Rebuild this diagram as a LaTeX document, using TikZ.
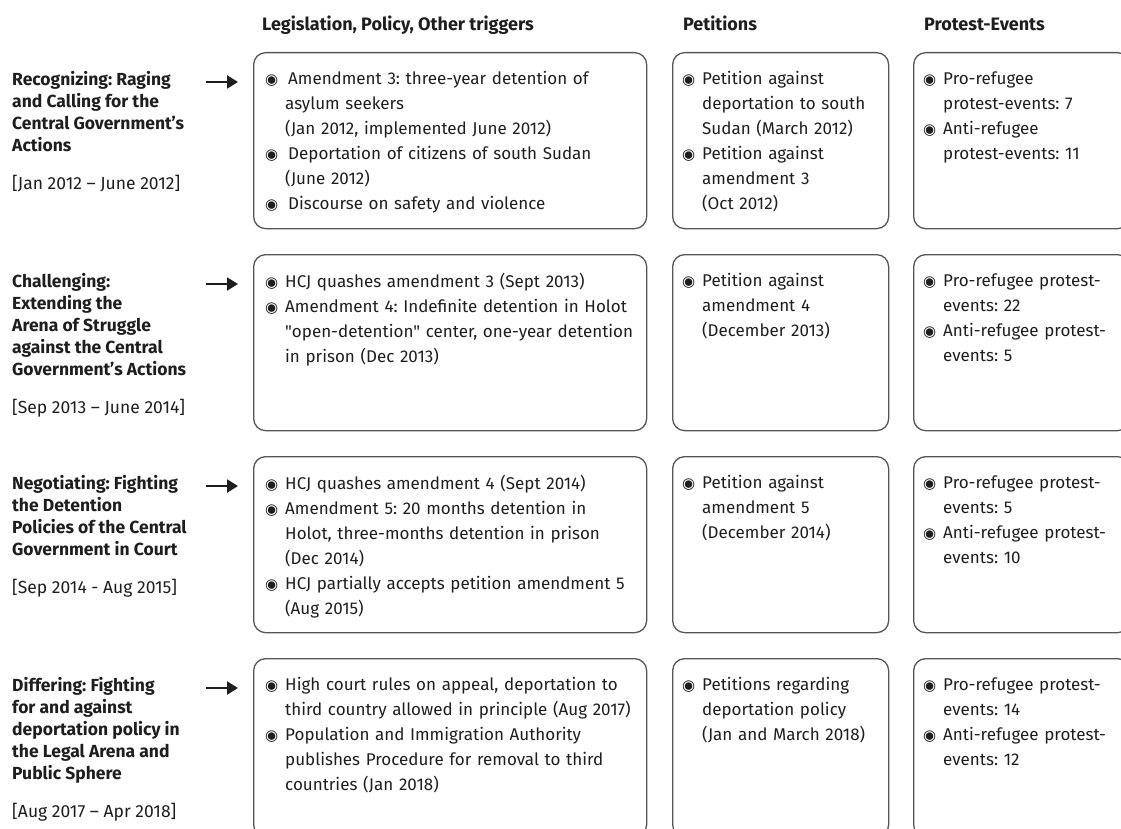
\documentclass[tikz,border=0pt]{standalone}
\usepackage{fontspec}
\setmainfont{Fira Sans}
\newfontfamily\bulfont{DejaVu Sans}
\newfontfamily\quotefont{Fira Sans}
\usetikzlibrary{arrows.meta}

\definecolor{boxgray}{HTML}{555555}
\definecolor{ink}{HTML}{1E1E1E}

\newlength{\bulw}
\setlength{\bulw}{20pt}
\newcommand{\bul}{{\bulfont\fontsize{15}{15}\selectfont ◉}}
\newcommand{\itm}[1]{\hangindent=\bulw\hangafter=1\noindent\rule{0pt}{13pt}\makebox[\bulw][l]{\bul}#1\par}
\newcommand{\dq}{{\quotefont"}}
\frenchspacing

\begin{document}
\begin{tikzpicture}[x=1pt,y=-1pt,
    stagebox/.style={draw=boxgray,line width=1.3pt,rounded corners=12pt,anchor=north west,minimum height=#1,inner sep=0pt},
    itemtext/.style={anchor=north west,inner sep=0pt,text width=#1,align=left,font=\frenchspacing\fontsize{17}{25}\selectfont,text=ink},
    stagelabel/.style={anchor=north west,inner sep=0pt,align=left,font=\bfseries\frenchspacing\fontsize{17.5}{22}\selectfont,text=ink},
    colhead/.style={anchor=base west,inner sep=0pt,font=\bfseries\fontsize{18}{22}\selectfont,text=ink},
    stagearrow/.style={-{Triangle[length=11pt,width=13pt]},line width=2.2pt,shorten >=15pt,ink}]
    \useasboundingbox (0,0) rectangle (1121,829);

    % column heads
    \node[colhead] (hleg) at (262,31) {Legislation, Policy, Other triggers};
    \node[colhead] (hpet) at (683,31) {Petitions};
    \node[colhead] (hpro) at (924,31) {Protest-Events};

    % boxes and arrows, one row per stage
    \foreach \r/\y/\h in {1/52/176,2/254/176,3/456/176,4/658/178} {
        \node[stagebox=\h pt,minimum width=393pt] (leg\r) at (253,\y) {};
        \node[stagebox=\h pt,minimum width=216pt] (pet\r) at (672,\y) {};
        \node[stagebox=\h pt,minimum width=216pt] (pro\r) at (913,\y) {};
        \coordinate (from\r) at (206,\y+30);
        \draw[stagearrow] (from\r) -- (from\r -| leg\r.west);
    }

    % stage 1
    \node[stagelabel] (stage1) at (12,71) {\rule{0pt}{13pt}Recognizing: Raging\\and Calling for the\\Central Government’s\\Actions\\[16pt]{\mdseries [Jan 2012 – June 2012]}};
    \node[itemtext=375pt] (leg1txt) at (265,71) {%
        \itm{\hspace{3pt}Amendment 3: three-year detention of\newline asylum seekers\newline (Jan 2012, implemented June 2012)}%
        \itm{\hspace{3pt}Deportation of citizens of south Sudan\newline (June 2012)}%
        \itm{\hspace{3pt}Discourse on safety and violence}};
    \node[itemtext=205pt] (pet1txt) at (682,71) {%
        \itm{Petition against\newline deportation to south\newline Sudan (March 2012)}%
        \itm{Petition against\newline amendment 3\newline (Oct 2012)}};
    \node[itemtext=200pt] (pro1txt) at (923,71) {%
        \itm{Pro-refugee\newline protest-events: 7}%
        \itm{Anti-refugee\newline protest-events: 11}};

    % stage 2
    \node[stagelabel] (stage2) at (12,273) {\rule{0pt}{13pt}Challenging:\\Extending the\\Arena of Struggle\\against the Central\\Government’s Actions\\[16pt]{\mdseries [Sep 2013 – June 2014]}};
    \node[itemtext=375pt] (leg2txt) at (265,273) {%
        \itm{HCJ quashes amendment 3 (Sept 2013)}%
        \itm{Amendment 4: Indefinite detention in Holot\newline \dq open-detention\dq{} center, one-year detention\newline in prison (Dec 2013)}};
    \node[itemtext=205pt] (pet2txt) at (682,273) {%
        \itm{Petition against\newline amendment 4\newline (December 2013)}};
    \node[itemtext=200pt] (pro2txt) at (923,273) {%
        \itm{Pro-refugee protest-\newline events: 22}%
        \itm{Anti-refugee protest-\newline events: 5}};

    % stage 3
    \node[stagelabel] (stage3) at (12,475) {\rule{0pt}{13pt}Negotiating: Fighting\\the Detention\\Policies of the Central\\Government in Court\\[16pt]{\mdseries [Sep 2014 - Aug 2015]}};
    \node[itemtext=375pt] (leg3txt) at (265,475) {%
        \itm{HCJ quashes amendment 4 (Sept 2014)}%
        \itm{Amendment 5: 20 months detention in\newline Holot, three-months detention in prison\newline (Dec 2014)}%
        \itm{HCJ partially accepts petition amendment 5\newline (Aug 2015)}};
    \node[itemtext=205pt] (pet3txt) at (682,475) {%
        \itm{Petition against\newline amendment 5\newline (December 2014)}};
    \node[itemtext=200pt] (pro3txt) at (923,475) {%
        \itm{Pro-refugee protest-\newline events: 5}%
        \itm{Anti-refugee protest-\newline events: 10}};

    % stage 4
    \node[stagelabel] (stage4) at (12,677) {\rule{0pt}{13pt}Differing: Fighting\\for and against\\deportation policy in\\the Legal Arena and\\Public Sphere\\[16pt]{\mdseries [Aug 2017 – Apr 2018]}};
    \node[itemtext=375pt] (leg4txt) at (265,677) {%
        \itm{High court rules on appeal, deportation to\newline third country allowed in principle (Aug 2017)}%
        \itm{Population and Immigration Authority\newline publishes Procedure for removal to third\newline countries (Jan 2018)}};
    \node[itemtext=205pt] (pet4txt) at (682,677) {%
        \itm{Petitions regarding\newline deportation policy\newline (Jan and March 2018)}};
    \node[itemtext=200pt] (pro4txt) at (923,677) {%
        \itm{Pro-refugee protest-\newline events: 14}%
        \itm{Anti-refugee protest-\newline events: 12}};
\end{tikzpicture}
\end{document}
